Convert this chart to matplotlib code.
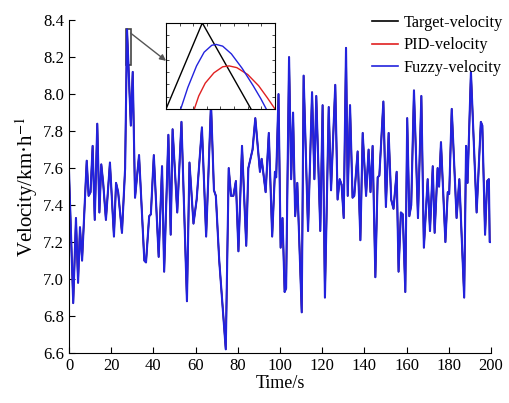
import matplotlib
matplotlib.use("Agg")
import matplotlib.pyplot as plt
from matplotlib.patches import Rectangle

plt.rcParams["font.family"] = ["Liberation Serif", "DejaVu Serif"]
plt.rcParams["mathtext.fontset"] = "stix"

# turning points of the velocity trace (s, km/h)
time_s = [0, 2.0, 3.3, 4.3, 5.2, 6.2, 8.4, 9.3, 10.2, 11.2, 12.2, 13.4, 14.4, 15.3, 16.2,
          17.5, 19.4, 21.3, 22.3, 23.3, 25.1, 26.6, 27.5, 28.2, 29.3, 30.2, 31.3, 33.2,
          35.7, 36.5, 38.0, 38.8, 40.2, 42.5, 44.1, 45.1, 47.1, 48.2, 49.1, 51.3, 53.3,
          55.9, 57.1, 59.0, 60.5, 63.0, 65.0, 67.3, 68.7, 69.6, 71.2, 74.3, 75.7, 76.8,
          77.9, 79.1, 80.3, 82.0, 84.0, 85.0, 86.2, 87.0, 88.3, 90.5, 91.3, 93.2, 94.7,
          96.3, 97.6, 98.2, 99.3, 100.3, 101.2, 102.2, 102.9, 104.3, 105.3, 106.2, 107.2,
          108.2, 110.3, 111.2, 113.3, 115.2, 116.3, 117.2, 119.1, 120.2, 121.3, 123.1,
          124.2, 126.2, 127.3, 128.3, 129.2, 130.2, 131.3, 132.1, 133.2, 134.4, 135.2,
          136.8, 138.1, 139.2, 140.8, 142.0, 142.9, 143.9, 145.2, 146.3, 147.1, 149.0,
          150.2, 151.5, 152.7, 153.8, 155.3, 156.2, 157.3, 158.2, 159.4, 160.3, 161.3,
          162.2, 163.5, 165.4, 167.0, 168.2, 170.0, 171.1, 172.4, 173.3, 174.7, 175.4,
          176.3, 178.4, 179.5, 180.2, 181.4, 183.7, 185.0, 187.3, 188.2, 188.9, 190.5,
          193.2, 195.2, 195.9, 197.2, 198.2, 199.0, 199.4, 200]
target = [7.58, 6.87, 7.33, 6.98, 7.28, 7.10, 7.64, 7.45, 7.47, 7.72, 7.32, 7.84, 7.36, 7.62,
          7.52, 7.32, 7.63, 7.23, 7.52, 7.47, 7.25, 7.60, 8.35, 8.15, 7.83, 8.12, 7.44, 7.67,
          7.10, 7.09, 7.34, 7.35, 7.67, 7.12, 7.61, 7.04, 7.78, 7.24, 7.81, 7.36, 7.85,
          6.88, 7.63, 7.30, 7.43, 7.82, 7.23, 7.95, 7.48, 7.45, 7.10, 6.62, 7.60, 7.45,
          7.45, 7.53, 7.15, 7.72, 7.18, 7.60, 7.66, 7.70, 7.87, 7.58, 7.65, 7.47, 7.79,
          7.23, 7.58, 7.55, 8.00, 7.17, 7.33, 6.93, 6.95, 8.20, 7.54, 7.90, 7.34,
          7.52, 6.82, 8.10, 7.26, 8.01, 7.54, 7.99, 7.26, 7.94, 6.90, 7.93,
          7.48, 8.05, 7.43, 7.54, 7.51, 7.33, 8.25, 7.45, 7.94, 7.44, 7.45,
          7.69, 7.21, 7.79, 7.45, 7.70, 7.47, 7.72, 7.01, 7.55, 7.56, 7.96,
          7.39, 7.79, 7.43, 7.38, 7.58, 7.04, 7.36, 7.35, 6.93, 7.87, 7.34,
          7.40, 8.02, 7.33, 7.99, 7.17, 7.54, 7.26, 7.61, 7.25, 7.60, 7.50,
          7.74, 7.20, 7.47, 7.46, 7.92, 7.33, 7.54, 6.90, 7.72, 7.52, 8.12,
          7.36, 7.85, 7.83, 7.24, 7.53, 7.54, 7.20, 7.20]
pid = target
fuzzy = target

# zoomed detail shown in the inset (fractions of the inset box)
inset_target_x = [0.0, 0.333, 0.78]
inset_target_y = [0.0, 1.0, 0.0]
inset_fuzzy_x = [0.135, 0.2, 0.28, 0.35, 0.42, 0.46, 0.52, 0.6, 0.7, 0.8, 0.87, 0.92]
inset_fuzzy_y = [0.0, 0.25, 0.5, 0.66, 0.74, 0.75, 0.73, 0.64, 0.47, 0.27, 0.12, 0.0]
inset_pid_x = [0.26, 0.3, 0.36, 0.44, 0.52, 0.58, 0.65, 0.75, 0.85, 0.93, 1.0]
inset_pid_y = [0.0, 0.15, 0.3, 0.42, 0.49, 0.50, 0.48, 0.40, 0.27, 0.13, 0.0]

fig = plt.figure(figsize=(5.1, 4.03), dpi=100, facecolor="white")
ax = fig.add_axes([0.1353, 0.124, 0.8274, 0.826])

ax.plot(time_s, target, color="black", lw=1.1, label="Target-velocity")
ax.plot(time_s, pid, color="#e02020", lw=0.9, label="PID-velocity")
ax.plot(time_s, fuzzy, color="#2222dd", lw=1.5, label="Fuzzy-velocity")

ax.set_xlim(0, 200)
ax.set_ylim(6.6, 8.4)
ax.set_xticks(range(0, 201, 20))
ax.set_yticks([6.6 + 0.2 * i for i in range(10)])
ax.set_yticklabels([f"{6.6 + 0.2 * i:.1f}" for i in range(10)])
ax.tick_params(direction="in", labelsize=12, length=4, width=0.8)
for side in ["top", "right"]:
    ax.spines[side].set_visible(False)
ax.set_xlabel("Time/s", fontsize=13, labelpad=1)
ax.set_ylabel("Velocity/km·h$^{-1}$", fontsize=15, labelpad=2)

leg = ax.legend(loc="upper right", bbox_to_anchor=(1.062, 1.06), frameon=False,
                fontsize=11.7, handlelength=1.6, handletextpad=0.35, labelspacing=0.4)
for line in leg.get_lines():
    line.set_linewidth(1.2)

# highlighted region and arrow to the inset
ax.add_patch(Rectangle((27.0, 8.16), 2.2, 0.19, fill=False, ec="#444444", lw=1.2))
ax.annotate("", xy=(46.0, 8.18), xytext=(29.2, 8.33),
            arrowprops=dict(arrowstyle="-|>", color="#555555", lw=1.0,
                            mutation_scale=9, shrinkA=0, shrinkB=0))

ins = ax.inset_axes([46.0, 7.92, 51.6, 0.465], transform=ax.transData)
ins.plot(inset_target_x, inset_target_y, color="black", lw=1.0)
ins.plot(inset_pid_x, inset_pid_y, color="#e02020", lw=1.0)
ins.plot(inset_fuzzy_x, inset_fuzzy_y, color="#2222dd", lw=1.0)
ins.set_xlim(0, 1)
ins.set_ylim(0, 1)
ins.set_xticks([i / 8 for i in range(9)])
ins.set_yticks([i / 7 for i in range(8)])
ins.tick_params(direction="in", length=2, width=0.5, labelleft=False, labelbottom=False,
                top=True, right=True)
ins.set_facecolor("white")

fig.savefig("out.png", dpi=100)
